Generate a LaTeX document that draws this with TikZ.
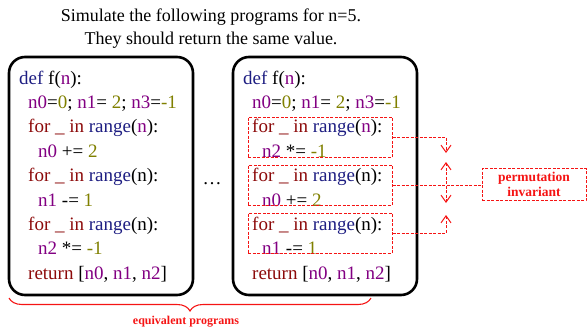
\documentclass[tikz,border=0pt]{standalone}
\usepackage{fontspec}
\setmainfont{Liberation Serif}
\usetikzlibrary{arrows.meta,decorations.pathreplacing}
\definecolor{pyD}{RGB}{30,30,130}
\definecolor{pyR}{RGB}{140,10,10}
\definecolor{pyV}{RGB}{130,0,130}
\definecolor{pyN}{RGB}{128,128,0}
\definecolor{annred}{RGB}{245,20,20}
\newcommand\pyD[1]{\textcolor{pyD}{#1}}
\newcommand\pyR[1]{\textcolor{pyR}{#1}}
\newcommand\pyV[1]{\textcolor{pyV}{#1}}
\newcommand\pyN[1]{\textcolor{pyN}{#1}}
\newcommand\forline[1]{\pyR{for \_ in} \pyD{range}(#1):}
\begin{document}
\begin{tikzpicture}[x=1pt,y=-1pt,
  progbox/.style={draw=black,line width=2.6pt,rounded corners=16pt,inner sep=0pt},
  code/.style={anchor=base west,inner sep=0pt,font=\fontsize{19}{23}\selectfont},
  title/.style={anchor=base,inner sep=0pt,font=\fontsize{18}{22}\selectfont},
  perm/.style={draw=annred,line width=1pt,dash pattern=on 3pt off 1.5pt,inner sep=0pt},
  conn/.style={draw=annred,line width=1pt,dash pattern=on 3pt off 1.5pt},
  tip/.style={-{Straight Barb[length=7pt,width=10pt]}},
  anno/.style={text=annred,font=\fontsize{13.5}{15}\selectfont\bfseries,align=center,inner sep=0pt}
]
\useasboundingbox (0,0) rectangle (587,332);

% title
\node[title] (t1) at (211,21) {Simulate the following programs for n=5.};
\node[title] (t2) at (211,44) {They should return the same value.};

% boxes
\node[progbox,minimum width=184pt,minimum height=238pt] (L) at (101,176) {};
\node[progbox,minimum width=184pt,minimum height=238pt] (R) at (325,176) {};
\node[font=\fontsize{19}{23}\selectfont] (dots) at (212,184) {\dots};

% left program
\node[code] (l1) at (19,84) {\pyD{def} f(\pyV{n}):};
\node[code] (l2) at (28,108.4) {\pyV{n0}=\pyN{0}; \pyV{n1}= \pyN{2}; \pyV{n3}=\pyN{-1}};
\node[code] (l3) at (28,132.8) {\forline{\pyV{n}}};
\node[code] (l4) at (38,157.2) {\pyV{n0} += \pyN{2}};
\node[code] (l5) at (28,181.6) {\forline{n}};
\node[code] (l6) at (38,206) {\pyV{n1} -= \pyN{1}};
\node[code] (l7) at (28,230.4) {\forline{n}};
\node[code] (l8) at (38,254.8) {\pyV{n2} *= \pyN{-1}};
\node[code] (l9) at (28,279.2) {\pyR{return} [\pyV{n0}, \pyV{n1}, \pyV{n2}]};

% right program
\node[code] (r1) at (243,84) {\pyD{def} f(\pyV{n}):};
\node[code] (r2) at (252,108.4) {\pyV{n0}=\pyN{0}; \pyV{n1}= \pyN{2}; \pyV{n3}=\pyN{-1}};
\node[code] (r3) at (252,132.8) {\forline{\pyV{n}}};
\node[code] (r4) at (262,157.2) {\pyV{n2} *= \pyN{-1}};
\node[code] (r5) at (252,181.6) {\forline{n}};
\node[code] (r6) at (262,206) {\pyV{n0} += \pyN{2}};
\node[code] (r7) at (252,230.4) {\forline{n}};
\node[code] (r8) at (262,254.8) {\pyV{n1} -= \pyN{1}};
\node[code] (r9) at (252,279.2) {\pyR{return} [\pyV{n0}, \pyV{n1}, \pyV{n2}]};

% dashed blocks
\node[perm,minimum width=144pt,minimum height=40pt] (d1) at (320,137) {};
\node[perm,minimum width=144pt,minimum height=40pt] (d2) at (320,185) {};
\node[perm,minimum width=144pt,minimum height=40pt] (d3) at (320,233) {};

% label
\node[perm,anno,minimum width=104pt,minimum height=32pt] (lab) at (534,184.5) {permutation\\invariant};

% connectors
\coordinate (j1) at (446,137);
\coordinate (a1) at (446,153);
\coordinate (a2) at (446,162);
\coordinate (a3) at (446,203);
\coordinate (a4) at (446,215);
\coordinate (j3) at (446,233);
\draw[conn,tip] (d1.east) -- (j1) -- (a1);
\draw[conn,tip] (j3 -| d3.east) -- (j3) -- (a4);
\draw[conn,{Straight Barb[length=7pt,width=10pt]}-{Straight Barb[length=7pt,width=10pt]}] (a2) -- (a3);
\draw[conn] (d2.east) -- (lab.west |- d2.east);

% brace
\coordinate (b1) at (9,298);
\coordinate (b2) at (371,298);
\draw[annred,line width=1.1pt,decorate,decoration={brace,mirror,amplitude=13pt}] (b1) -- (b2);
\node[anno,font=\fontsize{12}{14}\selectfont\bfseries] (eq) at (186,322) {equivalent programs};
\end{tikzpicture}
\end{document}
